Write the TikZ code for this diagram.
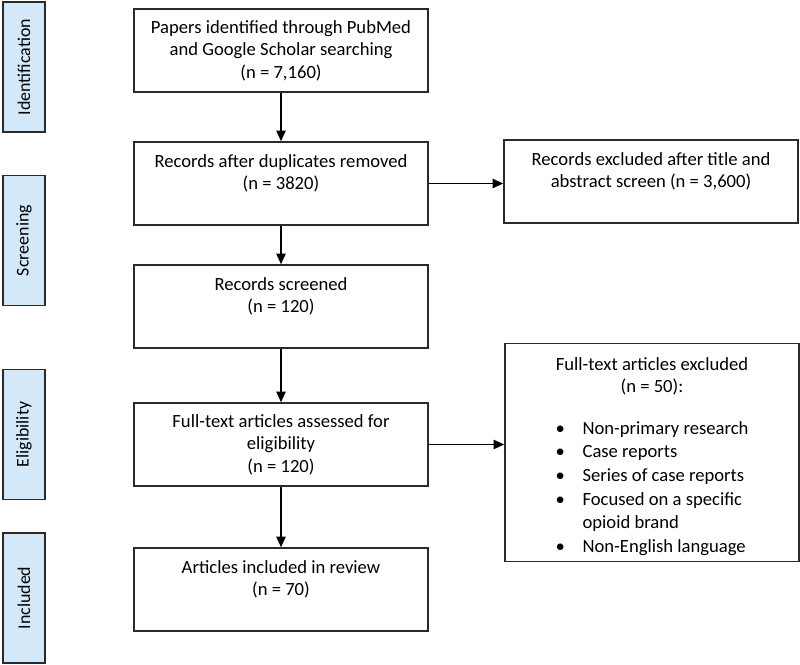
\documentclass[tikz,border=0pt]{standalone}
\usepackage{fontspec}
\setmainfont{Carlito}
\usetikzlibrary{arrows.meta}
\definecolor{stageblue}{HTML}{D3E9F9}
\definecolor{linegray}{HTML}{2A2A2A}
\tikzset{
  flowbox/.style={draw=linegray, line width=1.4pt, align=center,
    minimum width=8.82cm, minimum height=2.49cm, inner sep=2pt},
  stagebox/.style={draw=linegray, line width=1.4pt, fill=stageblue, rotate=90,
    minimum width=3.9cm, minimum height=1.26cm, inner sep=2pt,
    font=\fontsize{15.3}{18}\selectfont},
  arr/.style={line width=1.1pt, -{Triangle[length=9pt,width=8pt]}}
}

\begin{document}
\begin{tikzpicture}[x=0.03cm, y=-0.03cm, font=\fontsize{15.9}{19.2}\selectfont]
\useasboundingbox (0,0) rectangle (800,665);

% stages on the left
\node[stagebox] (ident) at (24,67) {Identification};
\node[stagebox] (screen) at (24,240.5) {Screening};
\node[stagebox] (elig) at (24,434.5) {Eligibility};
\node[stagebox] (incl) at (24,598) {Included};

% main flow
\node[flowbox] (papers) at (281,50.5) {Papers identified through PubMed\\
  and Google Scholar searching\\ (n = 7,160)};
\node[flowbox] (dups) at (281,183.5) {Records after duplicates removed\\
  (n = 3820)\\ \mbox{}};
\node[flowbox] (screened) at (281,306.5) {Records screened\\ (n = 120)\\ \mbox{}};
\node[flowbox] (fulltext) at (281,444.5) {Full-text articles assessed for\\
  eligibility\\ (n = 120)};
\node[flowbox] (included) at (281,589.5) {Articles included in review\\
  (n = 70)\\ \mbox{}};

% exclusions
\node[flowbox, minimum height=6.45cm] (excl2) at (652,452.5) {\rule{0pt}{21pt}Full-text articles excluded\\
  (n = 50):\\[18pt]
  \renewcommand\arraystretch{1.05}%
  \begin{tabular}{@{}p{0.81cm}@{}l@{}}
  \textbullet & Non-primary research\\
  \textbullet & Case reports\\
  \textbullet & Series of case reports\\
  \textbullet & Focused on a specific\\
              & opioid brand\\
  \textbullet & Non-English language
  \end{tabular}};
\node[flowbox] (excl1) at (651,181.5) {Records excluded after title and\\
  abstract screen (n = 3,600)\\ \mbox{}};

\draw[arr] (papers) -- (dups);
\draw[arr] (dups) -- (screened);
\draw[arr] (screened) -- (fulltext);
\draw[arr] (fulltext) -- (included);
\draw[arr] (dups) -- (dups -| excl1.west);
\draw[arr] (fulltext) -- (fulltext -| excl2.west);
\end{tikzpicture}
\end{document}
